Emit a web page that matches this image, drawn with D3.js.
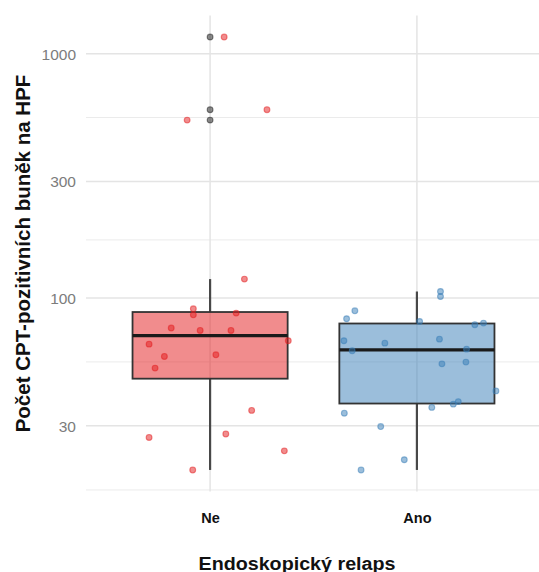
<!DOCTYPE html>
<html>
<head>
<meta charset="utf-8">
<script src="https://cdn.jsdelivr.net/npm/d3@7/dist/d3.min.js"></script>
<style>
  html, body { margin: 0; padding: 0; background: #ffffff; }
  svg { display: block; }
  text { font-family: "Liberation Sans", Arial, Helvetica, sans-serif; }
</style>
</head>
<body>
<svg id="chart" width="539" height="572"></svg>
<script>
// ---- data ----
const categories = ["Ne", "Ano"];
const neValues  = [1170, 535, 590, 119.6, 90.4, 85.4, 86.8, 75.4, 73.7, 73.7, 64.8, 66.9, 57.7, 58.6, 51.7, 34.7, 26.9, 27.8, 23.7, 19.8];
const neJitter  = [0.068, -0.111, 0.275, 0.166, -0.081, -0.081, 0.126, -0.188, -0.048, 0.101, -0.295, 0.378, -0.221, 0.028, -0.266, 0.201, -0.295, 0.076, 0.359, -0.084];
const anoValues = [106.4, 101.5, 88.7, 82.3, 80.2, 77.8, 79.0, 66.9, 65.4, 67.9, 60.9, 61.8, 53.8, 54.7, 41.7, 35.7, 36.8, 37.7, 33.8, 29.8, 21.8, 19.8];
const anoJitter = [0.114, 0.114, -0.300, -0.340, 0.013, 0.280, 0.322, -0.353, -0.155, 0.109, -0.313, 0.240, 0.121, 0.237, 0.382, 0.072, 0.176, 0.200, -0.351, -0.175, -0.061, -0.270];
const groupColors = ["#E41A1C", "#377EB8"];
const majorTicks = [30, 100, 300, 1000];
const minorTicks = [16.4, 54.8, 173, 548];
const yTitle = "Počet CPT-pozitivních buněk na HPF";
const xTitle = "Endoskopický relaps";

const groups = [
  { name: categories[0], values: neValues, jitter: neJitter, color: groupColors[0] },
  { name: categories[1], values: anoValues, jitter: anoJitter, color: groupColors[1] }
];

// ---- layout ----
const svg = d3.select("#chart");
const panel = { left: 86, right: 541, top: 15.4, bottom: 491.6 };

const allVals = neValues.concat(anoValues);
const lmin = Math.log10(d3.min(allVals)), lmax = Math.log10(d3.max(allVals));
const pad = (lmax - lmin) * 0.05;
const y = d3.scaleLog()
  .domain([Math.pow(10, lmin - pad), Math.pow(10, lmax + pad)])
  .range([panel.bottom, panel.top]);
const x = d3.scaleLinear().domain([0.4, categories.length + 0.6]).range([panel.left, panel.right]);
const xc = i => x(i + 1);

// ---- grid ----
const grid = svg.append("g");
grid.selectAll("line.minor").data(minorTicks).enter().append("line")
  .attr("x1", panel.left).attr("x2", panel.right)
  .attr("y1", d => y(d)).attr("y2", d => y(d))
  .attr("stroke", "#ebebeb").attr("stroke-width", 1);
grid.selectAll("line.major").data(majorTicks).enter().append("line")
  .attr("x1", panel.left).attr("x2", panel.right)
  .attr("y1", d => y(d)).attr("y2", d => y(d))
  .attr("stroke", "#e4e4e4").attr("stroke-width", 1.5);
grid.selectAll("line.vert").data(categories).enter().append("line")
  .attr("x1", (d, i) => xc(i)).attr("x2", (d, i) => xc(i))
  .attr("y1", panel.top).attr("y2", panel.bottom)
  .attr("stroke", "#e4e4e4").attr("stroke-width", 1.5);

// ---- boxplots (stats on log scale, like ggplot) ----
const boxW = 0.75;
const boxG = svg.append("g");
groups.forEach((g, i) => {
  const logs = g.values.map(Math.log10).sort(d3.ascending);
  const q1 = d3.quantileSorted(logs, 0.25), med = d3.quantileSorted(logs, 0.5), q3 = d3.quantileSorted(logs, 0.75);
  const iqr = q3 - q1;
  const lo = d3.min(logs.filter(v => v >= q1 - 1.5 * iqr));
  const hi = d3.max(logs.filter(v => v <= q3 + 1.5 * iqr));
  const outliers = logs.filter(v => v < q1 - 1.5 * iqr || v > q3 + 1.5 * iqr);
  const p = v => y(Math.pow(10, v));
  const cx = xc(i);
  const x0 = x(i + 1 - boxW / 2), x1 = x(i + 1 + boxW / 2);

  boxG.append("line").attr("x1", cx).attr("x2", cx).attr("y1", p(q3)).attr("y2", p(hi))
    .attr("stroke", "#484848").attr("stroke-width", 2.2);
  boxG.append("line").attr("x1", cx).attr("x2", cx).attr("y1", p(q1)).attr("y2", p(lo))
    .attr("stroke", "#484848").attr("stroke-width", 2.2);
  boxG.append("rect")
    .attr("x", x0).attr("y", p(q3)).attr("width", x1 - x0).attr("height", p(q1) - p(q3))
    .attr("fill", g.color).attr("fill-opacity", 0.5)
    .attr("stroke", "#333").attr("stroke-width", 1.8);
  boxG.append("line").attr("x1", x0).attr("x2", x1).attr("y1", p(med)).attr("y2", p(med))
    .attr("stroke", "#1a1a1a").attr("stroke-width", 3.3);
  boxG.selectAll(null).data(outliers).enter().append("circle")
    .attr("cx", cx).attr("cy", d => p(d)).attr("r", 2.9)
    .attr("fill", "#000").attr("fill-opacity", 0.45)
    .attr("stroke", "#000").attr("stroke-opacity", 0.45).attr("stroke-width", 1.1);
});

// ---- jittered points ----
const ptG = svg.append("g");
groups.forEach((g, i) => {
  ptG.selectAll(null).data(g.values).enter().append("circle")
    .attr("cx", (d, j) => x(i + 1 + g.jitter[j]))
    .attr("cy", d => y(d))
    .attr("r", 2.9)
    .attr("fill", g.color).attr("fill-opacity", 0.5)
    .attr("stroke", g.color).attr("stroke-opacity", 0.5).attr("stroke-width", 1.1);
});

// ---- axes ----
const yAxis = d3.axisLeft(y).tickValues(majorTicks).tickFormat(d3.format("d")).tickSize(0).tickPadding(0);
const ya = svg.append("g").attr("transform", "translate(76,0)").call(yAxis);
ya.select(".domain").remove();
ya.selectAll("text").attr("font-size", 15.5).attr("fill", "#7c7c7c")
  .attr("font-family", "'Liberation Sans', Arial, sans-serif").attr("dy", "0.35em").attr("x", 0);

const xBand = d3.scalePoint().domain(categories).range([xc(0), xc(categories.length - 1)]);
const xAxis = d3.axisBottom(xBand).tickSize(0).tickPadding(0);
const xa = svg.append("g").attr("transform", "translate(0,522.5)").call(xAxis);
xa.select(".domain").remove();
xa.selectAll("text").attr("font-size", 14.5).attr("font-weight", "bold").attr("fill", "#111")
  .attr("font-family", "'Liberation Sans', Arial, sans-serif").attr("dy", 0).attr("y", 0);

// ---- titles ----
svg.append("text")
  .attr("transform", `translate(29.5,${(panel.top + panel.bottom) / 2}) rotate(-90)`)
  .attr("text-anchor", "middle").attr("font-size", 20.5).attr("font-weight", "bold").attr("fill", "#111")
  .text(yTitle);
svg.append("text")
  .attr("x", 297).attr("y", 569.5)
  .attr("text-anchor", "middle").attr("font-size", 17.5).attr("font-weight", "bold").attr("fill", "#111")
  .attr("textLength", 197).attr("lengthAdjust", "spacingAndGlyphs")
  .text(xTitle);
</script>
</body>
</html>
